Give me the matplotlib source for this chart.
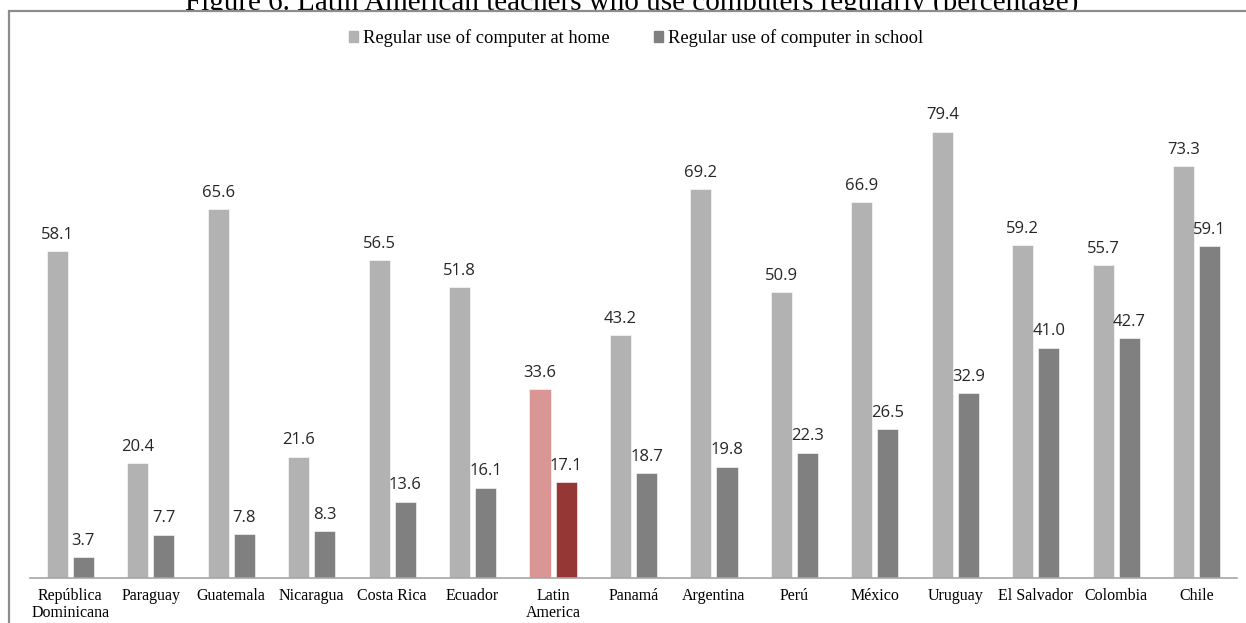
import matplotlib
matplotlib.use("Agg")
import matplotlib.pyplot as plt
import numpy as np
from matplotlib.patches import Rectangle, Patch

countries = ["República\nDominicana", "Paraguay", "Guatemala", "Nicaragua", "Costa Rica",
             "Ecuador", "Latin\nAmerica", "Panamá", "Argentina", "Perú", "México",
             "Uruguay", "El Salvador", "Colombia", "Chile"]
home = [58.1, 20.4, 65.6, 21.6, 56.5, 51.8, 33.6, 43.2, 69.2, 50.9, 66.9, 79.4, 59.2, 55.7, 73.3]
school = [3.7, 7.7, 7.8, 8.3, 13.6, 16.1, 17.1, 18.7, 19.8, 22.3, 26.5, 32.9, 41.0, 42.7, 59.1]
series_names = ["Regular use of computer at home", "Regular use of computer in school"]
title = "Figure 6. Latin American teachers who use computers regularly (percentage)"
highlight = "Latin\nAmerica"

home_color, school_color = "#B2B2B2", "#808080"
home_hl, school_hl = "#D99694", "#953735"

W, H = 1246, 623
fig = plt.figure(figsize=(W / 100, H / 100), dpi=100)

# title sits above the chart frame, partly hidden by it
fig.text(632 / W, 1 - 10 / H, title, ha="center", va="baseline",
         fontsize=21, family="Liberation Serif", color="black", zorder=0.5)

# chart area frame (white fill covers the title's descenders)
frame = Rectangle((9 / W, -0.1), 1.2, 1 - 11 / H + 0.1, transform=fig.transFigure,
                  facecolor="white", edgecolor="#8C8C8C", linewidth=1.6, zorder=1)
fig.patches.append(frame)

ax = fig.add_axes([30 / W, 45 / H, 1207 / W, 488 / H])
ax.set_zorder(2)
ax.patch.set_alpha(0)

x = np.arange(len(countries))
w, off = 0.262, 0.162
hc = [home_hl if c == highlight else home_color for c in countries]
sc = [school_hl if c == highlight else school_color for c in countries]
b1 = ax.bar(x - off, home, width=w, color=hc, edgecolor="white", linewidth=0.4)
b2 = ax.bar(x + off, school, width=w, color=sc, edgecolor="white", linewidth=0.4)

for bars, vals in ((b1, home), (b2, school)):
    for b, v in zip(bars, vals):
        ax.annotate(f"{v:.1f}", (b.get_x() + b.get_width() / 2, v),
                    xytext=(0, 6), textcoords="offset points", ha="center", va="bottom",
                    fontsize=12, family="Open Sans", color="#262626")

ax.set_xlim(-0.5, len(countries) - 0.5)
ax.set_ylim(0, 488 / 5.62)
ax.set_xticks(x)
ax.set_xticklabels(countries, family="Liberation Serif", fontsize=11.5, linespacing=1.1)
ax.tick_params(axis="x", length=0, pad=7)
ax.set_yticks([])
for s in ("left", "right", "top"):
    ax.spines[s].set_visible(False)
ax.spines["bottom"].set_color("#A6A6A6")
ax.spines["bottom"].set_linewidth(1.2)

handles = [Patch(color=home_color), Patch(color=school_color)]
ax.legend(handles, series_names, loc="center", bbox_to_anchor=(636 / W, 1 - 38 / H),
          bbox_transform=fig.transFigure, ncol=2, frameon=False,
          prop={"family": "Liberation Serif", "size": 13.3},
          handlelength=0.5, handleheight=0.5, handletextpad=0.25, columnspacing=2.4)

fig.savefig("out.png", dpi=100)
